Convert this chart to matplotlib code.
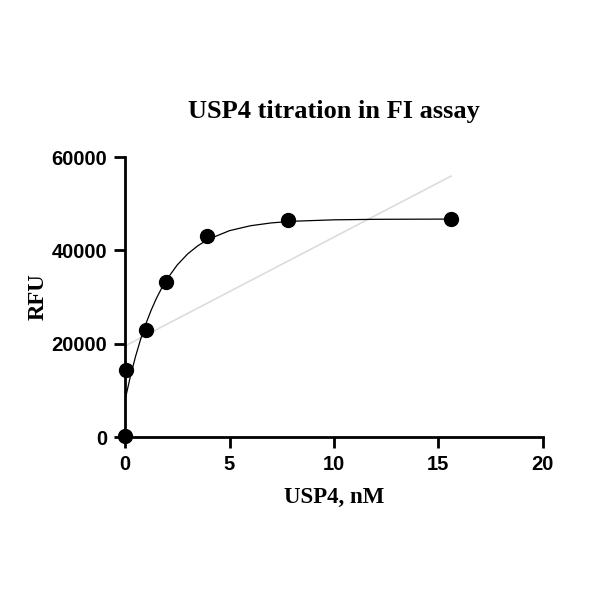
import matplotlib.pyplot as plt

# measured points
conc = [0.0, 0.03, 0.98, 1.95, 3.9, 7.8, 15.6]
rfu = [200, 14350, 22900, 33200, 43000, 46400, 46700]

# one-phase association fit
fit_x = [0.0, 0.25, 0.5, 0.75, 1.0, 1.25, 1.5, 1.75, 2.0, 2.5, 3.0, 3.5,
         4.0, 5.0, 6.0, 7.0, 8.0, 10.0, 12.0, 15.6]
fit_y = [7900, 12890, 17230, 21010, 24310, 27180, 29710, 31880, 33780, 36880,
         39250, 41040, 42390, 44220, 45270, 45880, 46230, 46540, 46650, 46700]

# straight line fit (light grey)
lin_x = [0.0, 15.6]
lin_y = [19500, 55900]

fig = plt.figure(figsize=(6.1, 6.1), dpi=100)
ax = fig.add_axes([0.205, 0.2836, 0.685, 0.459])

ax.plot(lin_x, lin_y, color="#dcdcdc", linewidth=1.2, zorder=1)
ax.plot(fit_x, fit_y, color="black", linewidth=0.9, zorder=2)
ax.plot(conc, rfu, "o", color="black", markersize=10, zorder=3, clip_on=False)

ax.set_xlim(0, 20)
ax.set_ylim(0, 60000)
ax.set_xticks([0, 5, 10, 15, 20])
ax.set_yticks([0, 20000, 40000, 60000])

for s in ["top", "right"]:
    ax.spines[s].set_visible(False)
for s in ["left", "bottom"]:
    ax.spines[s].set_linewidth(2)
ax.tick_params(direction="out", length=8, width=2, pad=5)
for lab in ax.get_xticklabels() + ax.get_yticklabels():
    lab.set_fontfamily("Liberation Sans")
    lab.set_fontweight("bold")
    lab.set_fontsize(14.5)

ax.set_xlabel("USP4, nM", fontfamily="Liberation Serif", fontweight="bold", fontsize=16.5, labelpad=9)
ax.set_ylabel("RFU", fontfamily="Liberation Serif", fontweight="bold", fontsize=16.5, labelpad=2)
ax.set_title("USP4 titration in FI assay", fontfamily="Liberation Serif", fontweight="bold",
             fontsize=19, pad=28)

plt.savefig("out.png", dpi=100)
